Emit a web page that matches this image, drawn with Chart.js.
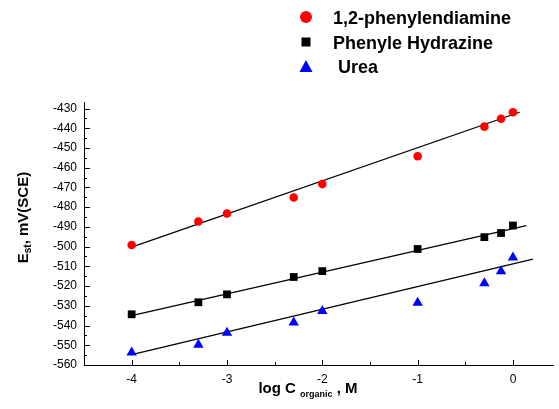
<!DOCTYPE html>
<html>
<head>
<meta charset="utf-8">
<script src="https://cdn.jsdelivr.net/npm/chart.js@4.4.1/dist/chart.umd.min.js"></script>
<style>
  html, body { margin: 0; padding: 0; background: #fff; }
  #wrap { width: 559px; height: 409px; position: relative; }
</style>
</head>
<body>
<div id="wrap"><canvas id="grafik"></canvas></div>
<script>
// Veriler (log C, mV)
const logC = [-4, -3.3, -3, -2.3, -2, -1, -0.3, -0.125, 0];
const phenylendiamine = [-499.2, -487.3, -483.2, -475.1, -468.3, -454.2, -439.2, -435.2, -431.9];
const phenylHydrazine = [-534.3, -528.2, -524.2, -515.4, -512.4, -501.2, -495.2, -493.1, -489.3];
const urea = [-553.7, -549.7, -543.6, -538.5, -532.6, -528.4, -518.6, -512.5, -505.5];

// Doğru uç noktaları
const fitRedX = [-4, 0.07];
const fitRedY = [-500.2, -431.9];
const fitBlackX = [-4, 0.14];
const fitBlackY = [-535.0, -489.3];
const fitBlueX = [-4, 0.21];
const fitBlueY = [-554.7, -506.3];

// Eksen etiketleri
const xTickValues = [-4, -3, -2, -1, 0];
const xMinorTicks = [-3.5, -2.5, -1.5, -0.5];
const yTickValues = [-560, -550, -540, -530, -520, -510, -500, -490, -480, -470, -460, -450, -440, -430];
const yMinorTicks = [-555, -545, -535, -525, -515, -505, -495, -485, -475, -465, -455, -445, -435];

const legendLabels = ['1,2-phenylendiamine', 'Phenyle Hydrazine', ' Urea'];

const FONT = '"Liberation Sans", Arial, sans-serif';

function noktalar(xs, ys) {
  return xs.map((x, i) => ({ x: x, y: ys[i] }));
}

function dogru(xs, ys) {
  return {
    data: noktalar(xs, ys),
    showLine: true,
    borderColor: '#000',
    borderWidth: 1.3,
    pointRadius: 0,
    fill: false
  };
}

// Kendi çizimlerimiz: içe dönük tikler, eksen başlıkları, lejant
const ekCizim = {
  id: 'ekCizim',
  afterDraw(chart) {
    const ctx = chart.ctx;
    const xs = chart.scales.x;
    const ys = chart.scales.y;
    const area = chart.chartArea;

    ctx.save();
    ctx.strokeStyle = '#000';
    ctx.lineWidth = 1;
    ctx.beginPath();
    xTickValues.forEach(v => {
      const px = Math.round(xs.getPixelForValue(v)) + 0.5;
      ctx.moveTo(px, area.bottom);
      ctx.lineTo(px, area.bottom - 5);
    });
    xMinorTicks.forEach(v => {
      const px = Math.round(xs.getPixelForValue(v)) + 0.5;
      ctx.moveTo(px, area.bottom);
      ctx.lineTo(px, area.bottom - 3);
    });
    yTickValues.forEach(v => {
      const py = Math.round(ys.getPixelForValue(v)) + 0.5;
      ctx.moveTo(area.left, py);
      ctx.lineTo(area.left + 6, py);
    });
    yMinorTicks.forEach(v => {
      const py = Math.round(ys.getPixelForValue(v)) + 0.5;
      ctx.moveTo(area.left, py);
      ctx.lineTo(area.left + 3, py);
    });
    ctx.stroke();

    // X ekseni başlığı
    ctx.fillStyle = '#000';
    ctx.textBaseline = 'alphabetic';
    const ana = 'bold 15px ' + FONT;
    const alt = 'bold 9px ' + FONT;
    ctx.font = ana;
    const w1 = ctx.measureText('log C ').width;
    const w3 = ctx.measureText(' , M').width;
    ctx.font = alt;
    const w2 = ctx.measureText('organic').width;
    let x0 = 308 - (w1 + w2 + w3) / 2;
    ctx.font = ana;
    ctx.fillText('log C ', x0, 393);
    ctx.font = alt;
    ctx.fillText('organic', x0 + w1, 397);
    ctx.font = ana;
    ctx.fillText(' , M', x0 + w1 + w2, 393);

    // Y ekseni başlığı
    ctx.save();
    ctx.translate(27.5, 217.5);
    ctx.rotate(-Math.PI / 2);
    const altY = 'bold 10px ' + FONT;
    ctx.font = ana;
    const e1 = ctx.measureText('E').width;
    const e3 = ctx.measureText(', mV(SCE)').width;
    ctx.font = altY;
    const e2 = ctx.measureText('st').width;
    let y0 = -(e1 + e2 + e3) / 2;
    ctx.font = ana;
    ctx.fillText('E', y0, 0);
    ctx.font = altY;
    ctx.fillText('st', y0 + e1, 3.5);
    ctx.font = ana;
    ctx.fillText(', mV(SCE)', y0 + e1 + e2, 0);
    ctx.restore();

    // Lejant
    const mx = 306;
    ctx.fillStyle = '#ff0000';
    ctx.beginPath();
    ctx.arc(mx, 17, 6, 0, Math.PI * 2);
    ctx.fill();
    ctx.fillStyle = '#000';
    ctx.fillRect(mx - 4.5, 37.5, 9, 9);
    ctx.fillStyle = '#0000ff';
    ctx.beginPath();
    ctx.moveTo(mx, 60);
    ctx.lineTo(mx + 6.5, 72);
    ctx.lineTo(mx - 6.5, 72);
    ctx.closePath();
    ctx.fill();

    ctx.fillStyle = '#000';
    ctx.font = 'bold 18px ' + FONT;
    ctx.fillText(legendLabels[0], 333, 24);
    ctx.fillText(legendLabels[1], 333, 49);
    ctx.fillText(legendLabels[2], 333, 73);
    ctx.restore();
  }
};

const ctx = document.getElementById('grafik').getContext('2d');
Chart.defaults.color = '#000';
Chart.defaults.font.family = FONT;

new Chart(ctx, {
  type: 'scatter',
  data: {
    datasets: [
      {
        label: legendLabels[0],
        data: noktalar(logC, phenylendiamine),
        pointStyle: 'circle',
        pointRadius: 4.3,
        backgroundColor: '#ff0000',
        borderColor: '#ff0000',
        borderWidth: 0
      },
      {
        label: legendLabels[1],
        data: noktalar(logC, phenylHydrazine),
        pointStyle: 'rect',
        pointRadius: 5.5,
        backgroundColor: '#000',
        borderColor: '#000',
        borderWidth: 0
      },
      {
        label: legendLabels[2],
        data: noktalar(logC, urea),
        pointStyle: 'triangle',
        pointRadius: 6,
        backgroundColor: '#0000ff',
        borderColor: '#0000ff',
        borderWidth: 0
      },
      dogru(fitRedX, fitRedY),
      dogru(fitBlackX, fitBlackY),
      dogru(fitBlueX, fitBlueY)
    ]
  },
  options: {
    responsive: true,
    maintainAspectRatio: false,
    animation: false,
    layout: { padding: { top: 102, right: 1, left: 0, bottom: 0 } },
    plugins: {
      legend: { display: false },
      tooltip: { enabled: false }
    },
    scales: {
      x: {
        type: 'linear',
        min: -4.5,
        max: 0.42,
        afterBuildTicks: (s) => { s.ticks = xTickValues.map(v => ({ value: v })); },
        afterFit: (s) => { s.height = 44; },
        ticks: { font: { size: 12 }, color: '#000', padding: 7 },
        grid: { drawOnChartArea: false, drawTicks: false },
        border: { display: true, color: '#000', width: 1 }
      },
      y: {
        type: 'linear',
        min: -560,
        max: -426.7,
        afterBuildTicks: (s) => { s.ticks = yTickValues.map(v => ({ value: v })); },
        afterFit: (s) => { s.width = 84; },
        ticks: { font: { size: 12 }, color: '#000', padding: 7 },
        grid: { drawOnChartArea: false, drawTicks: false },
        border: { display: true, color: '#000', width: 1 }
      }
    }
  },
  plugins: [ekCizim]
});
</script>
</body>
</html>
